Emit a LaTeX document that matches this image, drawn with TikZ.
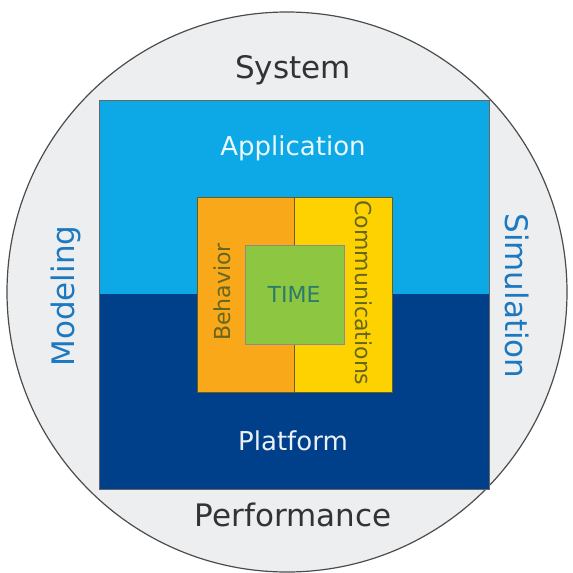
\documentclass[tikz,border=0pt]{standalone}
\usepackage{fontspec}
\setmainfont{DejaVu Sans}
\definecolor{ringgray}{HTML}{EDEEF0}
\definecolor{appblue}{HTML}{0DA9E6}
\definecolor{platblue}{HTML}{00408A}
\definecolor{behorange}{HTML}{F8A819}
\definecolor{comyellow}{HTML}{FDD200}
\definecolor{timegreen}{HTML}{8DC641}
\definecolor{sidetext}{HTML}{1C79C0}
\definecolor{olivetext}{HTML}{66671E}
\definecolor{timetext}{HTML}{2C7A6A}
\tikzset{
    big/.style={font=\fontsize{31}{31}\selectfont},
    small/.style={font=\fontsize{26}{26}\selectfont},
    inner/.style={font=\fontsize{22}{22}\selectfont},
}
\begin{document}
\begin{tikzpicture}[x=1pt,y=-1pt]
        \useasboundingbox (0,0) rectangle (573,573);
        \draw[fill=ringgray, draw=black!70, line width=1.2pt] (287,292) circle (280);
        \fill[appblue] (99,100) rectangle (489,294);
        \fill[platblue] (99,294) rectangle (489,489);
        \draw[black!60, line width=0.8pt] (99,100) rectangle (489,489);
        \fill[behorange] (197,197) rectangle (294,392);
        \fill[comyellow] (294,197) rectangle (392,392);
        \draw[black!40!olive, line width=0.6pt] (197,197) rectangle (392,392)
            (294,197) -- (294,392);
        \draw[fill=timegreen, draw=black!45, line width=0.6pt] (245,245) rectangle (344,344);
        \node[big, black!80] (system) at (293,70) {System};
        \node[big, black!80] (performance) at (293,515) {Performance};
        \node[big, sidetext, rotate=90] (modeling) at (66,296) {Modeling};
        \node[big, sidetext, rotate=-90] (simulation) at (517,296) {Simulation};
        \node[small, white!92!appblue] (application) at (293,148) {Application};
        \node[small, white!92!platblue] (platform) at (293,441) {Platform};
        \node[inner, olivetext, rotate=90] (behavior) at (222,292) {Behavior};
        \node[inner, olivetext, rotate=-90] (comms) at (364,293) {Communications};
        \node[inner, timetext] (time) at (294,294) {TIME};
    \end{tikzpicture}
\end{document}
